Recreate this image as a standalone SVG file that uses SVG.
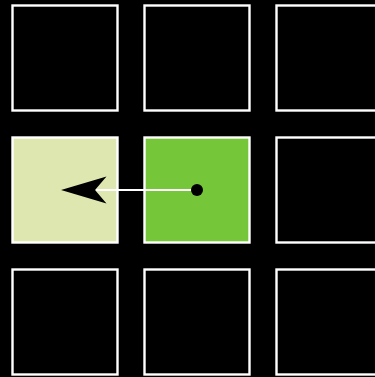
<svg xmlns="http://www.w3.org/2000/svg" width="375" height="377" viewBox="0 0 375 377">
<style>
.cell{fill:#000;stroke:#fff;stroke-width:2.4}
</style>
<rect width="375" height="377" fill="#000"/>
<g id="c00"><rect class="cell" x="12.5" y="5.5" width="105" height="105"/></g>
<g id="c01"><rect class="cell" x="144.5" y="5.5" width="105" height="105"/></g>
<g id="c02"><rect class="cell" x="276.5" y="5.5" width="105" height="105"/></g>
<g id="c10"><rect class="cell" x="12.5" y="137.5" width="105" height="105" style="fill:#dfe7b1"/></g>
<g id="c11"><rect class="cell" x="144.5" y="137.5" width="105" height="105" style="fill:#75c739"/></g>
<g id="c12"><rect class="cell" x="276.5" y="137.5" width="105" height="105"/></g>
<g id="c20"><rect class="cell" x="12.5" y="269.5" width="105" height="105"/></g>
<g id="c21"><rect class="cell" x="144.5" y="269.5" width="105" height="105"/></g>
<g id="c22"><rect class="cell" x="276.5" y="269.5" width="105" height="105"/></g>
<g id="connectors">
<line x1="197" y1="190" x2="96" y2="190" stroke="#fff" stroke-width="2"/>
<circle cx="197" cy="190" r="6" fill="#000"/>
<polygon points="61,190 106.5,176.5 95,190 106.5,203.5" fill="#000"/>
</g>
</svg>
